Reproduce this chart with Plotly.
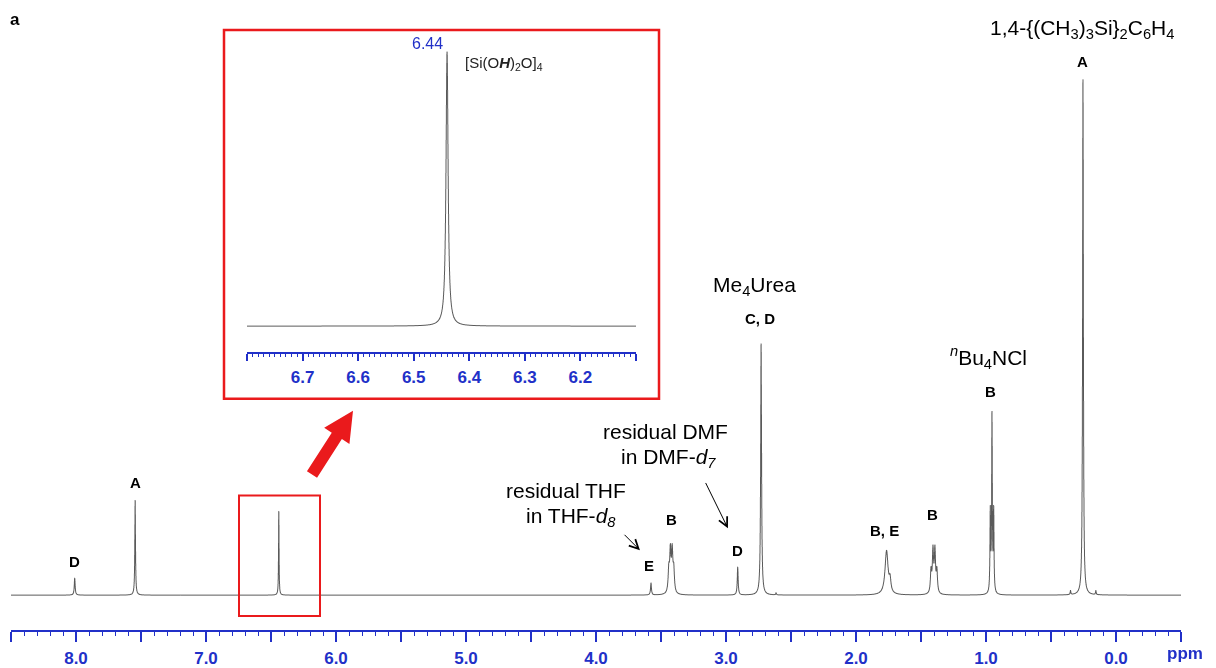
import numpy as np
import plotly.graph_objects as go

# ---- 1H NMR peak table (chemical shift / ppm, intensity, line width FWHM / ppm) ----
peak_shift = [8.010, 7.545, 6.440, 3.577,
              3.440, 3.428, 3.414, 3.402,
              2.910, 2.730, 2.615,
              1.765, 1.738,
              1.423, 1.408, 1.393, 1.378,
              0.967, 0.954, 0.941,
              0.350, 0.254, 0.155]
peak_height = [17, 95, 84, 12,
               22, 40, 40, 22,
               28, 252, 2,
               44, 12,
               22, 42, 42, 22,
               80, 176, 80,
               4, 517, 4]
peak_fwhm = [0.008, 0.006, 0.0045, 0.008,
             0.012, 0.012, 0.012, 0.012,
             0.008, 0.008, 0.006,
             0.028, 0.015,
             0.011, 0.011, 0.011, 0.011,
             0.006, 0.006, 0.006,
             0.006, 0.007, 0.006]

# main axis ticks
main_tick_vals = [8.5, 8.0, 7.5, 7.0, 6.5, 6.0, 5.5, 5.0, 4.5, 4.0,
                  3.5, 3.0, 2.5, 2.0, 1.5, 1.0, 0.5, 0.0, -0.5]
main_tick_text = ["", "8.0", "", "7.0", "", "6.0", "", "5.0", "", "4.0",
                  "", "3.0", "", "2.0", "", "1.0", "", "0.0", ""]
# expanded region ticks
inset_tick_vals = [6.8, 6.7, 6.6, 6.5, 6.4, 6.3, 6.2, 6.1]
inset_tick_text = ["", "6.7", "6.6", "6.5", "6.4", "6.3", "6.2", ""]

# peak assignment labels (text, ppm, intensity level)
assign_text = ["D", "A", "E", "B", "D", "C, D", "B, E", "B", "B", "A"]
assign_ppm = [8.010, 7.546, 3.592, 3.423, 2.915, 2.738, 1.777, 1.408, 0.962, 0.254]
assign_level = [34, 113, 30, 76, 45, 277, 65, 81, 204, 535]

# compound / solvent labels (text, ppm, intensity level)
name_text = ["1,4-{(CH<sub>3</sub>)<sub>3</sub>Si}<sub>2</sub>C<sub>6</sub>H<sub>4</sub>",
             "Me<sub>4</sub>Urea",
             "<i><sup>n</sup></i>Bu<sub>4</sub>NCl",
             "residual DMF", "in DMF-<i>d</i><sub><i>7</i></sub>",
             "residual THF", "in THF-<i>d</i><sub><i>8</i></sub>"]
name_ppm = [0.262, 2.777, 0.977, 3.462, 3.446, 4.231, 4.192]
name_level = [568, 310, 238, 164, 138, 105, 78]
name_size = [21, 21, 21, 21, 21, 21, 21]

BLUE = "#2130c8"
RED = "#ea1a1c"
LINE = "#5a5a5a"
FONT = "Liberation Sans, Arial, sans-serif"

W, H = 1216, 668
ML, MR, MT, MB = 11, 35, 0, 36
PW, PH = W - ML - MR, H - MT - MB


def fx(x):
    return (x - ML) / PW


def fy(y):
    return (H - MB - y) / PH


def spectrum(x):
    y = np.zeros_like(x)
    for s, h, w in zip(peak_shift, peak_height, peak_fwhm):
        y += h / (1.0 + ((x - s) / (w / 2.0)) ** 2)
    return y


ppm = np.linspace(-0.5, 8.5, 36001)
ppm_in = np.linspace(6.1, 6.8, 7001)

fig = go.Figure()
fig.add_trace(go.Scattergl(x=ppm, y=spectrum(ppm), mode="lines",
                           line=dict(color=LINE, width=1), hoverinfo="skip",
                           xaxis="x", yaxis="y"))
fig.add_trace(go.Scattergl(x=ppm_in, y=spectrum(ppm_in), mode="lines",
                           line=dict(color=LINE, width=1), hoverinfo="skip",
                           xaxis="x2", yaxis="y2"))

# expanded view geometry
in_left, in_right, in_axis, in_top, in_base = 247, 636, 353, 40, 327
in_peak = 84.0
k = (in_base - 52) / in_peak
y2_lo = -(in_axis - in_base) / k
y2_hi = ((in_axis - in_top) - (in_axis - in_base)) / k

axis_common = dict(showline=True, linecolor=BLUE, linewidth=2, ticks="outside",
                   tickcolor=BLUE, showgrid=False, zeroline=False,
                   tickfont=dict(family=FONT, size=17, color=BLUE, weight="bold"))

fig.update_layout(
    width=W, height=H, margin=dict(l=ML, r=MR, t=MT, b=MB),
    paper_bgcolor="white", plot_bgcolor="white", showlegend=False,
    xaxis=dict(range=[8.5, -0.5], tickmode="array", tickvals=main_tick_vals,
               ticktext=main_tick_text, ticklen=10, tickwidth=1.5,
               minor=dict(ticks="outside", ticklen=4, tickwidth=1.2,
                          tickcolor=BLUE, tick0=0, dtick=0.1),
               ticklabelstandoff=2, **axis_common),
    yaxis=dict(range=[-35, PH - 35], visible=False),
    xaxis2=dict(range=[6.8, 6.1], domain=[fx(in_left), fx(in_right)], anchor="y2",
                tickmode="array", tickvals=inset_tick_vals, ticktext=inset_tick_text,
                ticklen=7, tickwidth=1.5,
                minor=dict(ticks="outside", ticklen=3, tickwidth=1,
                           tickcolor=BLUE, tick0=6.1, dtick=0.01),
                ticklabelstandoff=2, **axis_common),
    yaxis2=dict(range=[y2_lo, y2_hi], domain=[fy(in_axis), fy(in_top)],
                anchor="x2", visible=False),
)

ann = []
for t, x, y in zip(assign_text, assign_ppm, assign_level):
    ann.append(dict(x=x, y=y, xref="x", yref="y", text=f"<b>{t}</b>",
                    showarrow=False, xanchor="center", yanchor="middle",
                    font=dict(family=FONT, size=15, color="black")))
for t, x, y, s in zip(name_text, name_ppm, name_level, name_size):
    ann.append(dict(x=x, y=y, xref="x", yref="y", text=t, showarrow=False,
                    xanchor="center", yanchor="middle",
                    font=dict(family=FONT, size=s, color="black")))

# pointer arrows to the residual solvent signals
ann.append(dict(x=3.662, y=45, ax=3.792, ay=62, xref="x", yref="y", axref="x", ayref="y",
                text="", showarrow=True, arrowhead=5, arrowsize=1.8, arrowwidth=1,
                arrowcolor="black"))
ann.append(dict(x=2.985, y=67, ax=3.162, ay=114, xref="x", yref="y", axref="x", ayref="y",
                text="", showarrow=True, arrowhead=5, arrowsize=1.8, arrowwidth=1,
                arrowcolor="black"))

# expanded view labels
ann.append(dict(x=6.476, y=86.5, xref="x2", yref="y2", text="6.44", showarrow=False,
                xanchor="center", yanchor="middle",
                font=dict(family=FONT, size=16, color=BLUE)))
ann.append(dict(x=6.338, y=80.5, xref="x2", yref="y2",
                text="[Si(O<b><i>H</i></b>)<sub>2</sub>O]<sub>4</sub>", showarrow=False,
                xanchor="center", yanchor="middle",
                font=dict(family=FONT, size=15, color="#222222")))

# panel letter and axis unit
ann.append(dict(x=fx(15), y=fy(20), xref="paper", yref="paper", text="<b>a</b>",
                showarrow=False, xanchor="center", yanchor="middle",
                font=dict(family=FONT, size=17, color="black")))
ann.append(dict(x=fx(1185), y=fy(656), xref="paper", yref="paper", text="<b>ppm</b>",
                showarrow=False, xanchor="center", yanchor="middle",
                font=dict(family=FONT, size=17, color=BLUE)))
fig.update_layout(annotations=ann)

# highlight box, expanded-view frame and the connecting arrow
shapes = [
    dict(type="rect", xref="paper", yref="paper", x0=fx(239), x1=fx(320),
         y0=fy(618), y1=fy(497), line=dict(color=RED, width=2)),
    dict(type="rect", xref="paper", yref="paper", x0=fx(224), x1=fx(659),
         y0=fy(400), y1=fy(30), line=dict(color=RED, width=2.5)),
]
tail = np.array([312.0, 476.0])
tip = np.array([353.0, 412.0])
u = (tip - tail) / np.linalg.norm(tip - tail)
p = np.array([-u[1], u[0]])
base = tip - 30 * u
pts = [tail - 6 * p, base - 6 * p, base - 15 * p, tip, base + 15 * p, base + 6 * p, tail + 6 * p]
path = "M " + " L ".join(f"{fx(a):.5f},{fy(b):.5f}" for a, b in pts) + " Z"
shapes.append(dict(type="path", xref="paper", yref="paper", path=path,
                   fillcolor=RED, line=dict(color=RED, width=0)))
fig.update_layout(shapes=shapes)

fig.write_html("out.html")
